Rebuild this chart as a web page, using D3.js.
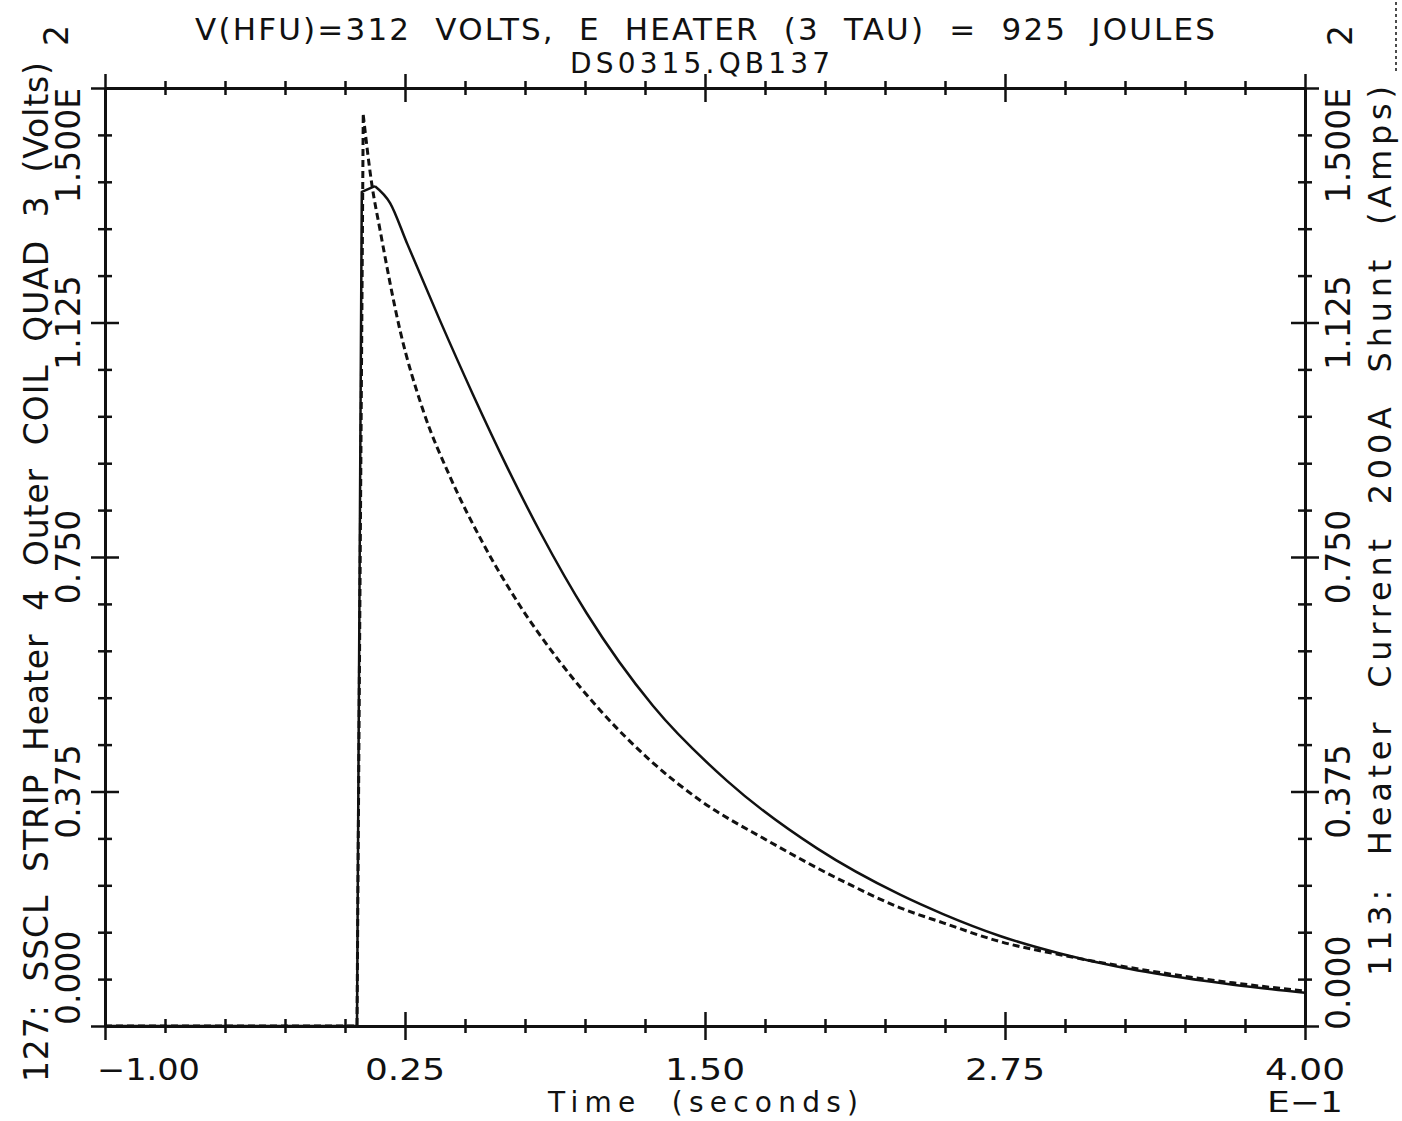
<!DOCTYPE html>
<html>
<head>
<meta charset="utf-8">
<script src="https://cdn.jsdelivr.net/npm/d3@7"></script>
<style>
  body { margin: 0; background: #fff; }
  text { font-family: "DejaVu Sans", sans-serif; fill: #111; white-space: pre; }
  .axis .domain, .axis line { stroke: #111; stroke-width: 2.5; }
</style>
</head>
<body>
<svg id="chart" width="1402" height="1121"></svg>
<script>
// Heater voltage trace (solid, left axis) - time in E-1 s, volts in E2
const voltTime  = [-1.00, 0.050, 0.070, 0.125, 0.188, 0.257, 0.396, 0.533, 0.674, 0.813, 1.007, 1.283, 1.592, 1.967, 2.313, 2.492, 2.729, 2.979, 3.217, 3.492, 3.700, 4.000];
const voltValue = [0.000, 0.000, 1.334, 1.343, 1.316, 1.253, 1.128, 1.010, 0.895, 0.790, 0.660, 0.512, 0.392, 0.284, 0.210, 0.179, 0.144, 0.116, 0.095, 0.077, 0.066, 0.053];
const voltPeakIndex = 3;

// Heater current trace (dashed, right axis) - amps in E2
const ampTime  = [-1.00, 0.050, 0.076, 0.111, 0.146, 0.229, 0.325, 0.438, 0.575, 0.729, 0.896, 1.063, 1.271, 1.479, 1.758, 2.104, 2.313, 2.492, 2.729, 2.979, 3.217, 3.492, 3.700, 4.000];
const ampValue = [0.000, 0.000, 1.457, 1.348, 1.273, 1.113, 0.985, 0.878, 0.772, 0.672, 0.582, 0.505, 0.425, 0.361, 0.297, 0.226, 0.189, 0.165, 0.135, 0.114, 0.097, 0.080, 0.069, 0.056];
const ampPeakIndex = 2;

// tick labels
const xMajor = [-1.00, 0.25, 1.50, 2.75, 4.00];
const xLabels = ["\u22121.00", "0.25", "1.50", "2.75", "4.00"];
const yMajor = [0, 0.375, 0.75, 1.125, 1.5];
const yLabels = ["0.000", "0.375", "0.750", "1.125", "1.500E"];

const svg = d3.select("#chart");

const x = d3.scaleLinear().domain([-1, 4]).range([105, 1305]);
const yL = d3.scaleLinear().domain([0, 1.5]).range([1026, 88]);
const yR = d3.scaleLinear().domain([0, 1.5]).range([1026, 88]);

const xMinor = d3.range(-1, 4.001, 0.25).filter(v => !xMajor.some(m => Math.abs(m - v) < 1e-6));
const yMinor = d3.range(0, 1.5001, 0.075).filter(v => !yMajor.some(m => Math.abs(m - v) < 1e-6));

// crossing ticks: draw the same axis to both sides of the line
function crossAxis(axisA, axisB, scale, transform, major, minor) {
    [axisA, axisB].forEach(ax => {
        svg.append("g").attr("class", "axis").attr("transform", transform)
            .call(ax(scale).tickValues(major).tickSize(14).tickSizeOuter(0).tickFormat(""));
        svg.append("g").attr("class", "axis").attr("transform", transform)
            .call(ax(scale).tickValues(minor).tickSize(7).tickSizeOuter(0).tickFormat(""));
    });
}

crossAxis(d3.axisBottom, d3.axisTop, x, `translate(0,${yL(0)})`, xMajor, xMinor);
crossAxis(d3.axisBottom, d3.axisTop, x, `translate(0,${yL(1.5)})`, xMajor, xMinor);
crossAxis(d3.axisLeft, d3.axisRight, yL, `translate(${x(-1)},0)`, yMajor, yMinor);
crossAxis(d3.axisLeft, d3.axisRight, yR, `translate(${x(4)},0)`, yMajor, yMinor);

// straight rise to the peak, smooth decay after it
function tracePath(times, values, yScale, split) {
    const pts = times.map((t, i) => [x(t), yScale(values[i])]);
    const rise = d3.line().curve(d3.curveLinear)(pts.slice(0, split + 1));
    const decay = d3.line().curve(d3.curveMonotoneX)(pts.slice(split));
    return rise + decay;
}

svg.append("path")
    .attr("d", tracePath(voltTime, voltValue, yL, voltPeakIndex))
    .attr("fill", "none").attr("stroke", "#111").attr("stroke-width", 2.5)
    .attr("stroke-linejoin", "round");
svg.append("path")
    .attr("d", tracePath(ampTime, ampValue, yR, ampPeakIndex))
    .attr("fill", "none").attr("stroke", "#111").attr("stroke-width", 3)
    .attr("stroke-dasharray", "7,4");

// titles
svg.append("text").attr("x", 195).attr("y", 40)
    .attr("font-size", 31).attr("textLength", 1020).attr("lengthAdjust", "spacing")
    .text("V(HFU)=312  VOLTS,  E  HEATER  (3  TAU)  =  925  JOULES");
svg.append("text").attr("x", 570).attr("y", 73)
    .attr("font-size", 28).attr("textLength", 260).attr("lengthAdjust", "spacing")
    .text("DS0315.QB137");

// bottom tick labels
svg.selectAll(".xlab").data(xMajor).enter().append("text")
    .attr("class", "xlab")
    .attr("x", (d, i) => i === 0 ? 97 : x(d))
    .attr("y", 1080)
    .attr("font-size", 30)
    .attr("text-anchor", (d, i) => i === 0 ? "start" : "middle")
    .attr("textLength", (d, i) => i === 0 ? 103 : 80)
    .attr("lengthAdjust", "spacingAndGlyphs")
    .text((d, i) => xLabels[i]);

svg.append("text").attr("x", 548).attr("y", 1112)
    .attr("font-size", 28).attr("textLength", 310).attr("lengthAdjust", "spacing")
    .text("Time  (seconds)");
svg.append("text").attr("x", 1305).attr("y", 1112)
    .attr("font-size", 28).attr("text-anchor", "middle")
    .attr("textLength", 76).attr("lengthAdjust", "spacingAndGlyphs")
    .text("E\u22121");

// rotated y tick labels
function yTickLabels(scale, bx, zeroStart) {
    yMajor.forEach((v, i) => {
        let y = scale(v), anchor = "middle";
        if (i === 0) { y = zeroStart; anchor = "start"; }
        if (i === yMajor.length - 1) { anchor = "end"; }
        svg.append("text")
            .attr("transform", `translate(${bx},${y}) rotate(-90)`)
            .attr("font-size", 33).attr("text-anchor", anchor)
            .text(yLabels[i]);
    });
}
yTickLabels(yL, 80, 1025);
yTickLabels(yR, 1350, 1030);

// exponent marks
svg.append("text").attr("transform", "translate(68,46) rotate(-90)")
    .attr("font-size", 33).text("2");
svg.append("text").attr("transform", "translate(1352,46) rotate(-90)")
    .attr("font-size", 33).text("2");
svg.append("line").attr("x1", 1396).attr("x2", 1396).attr("y1", 2).attr("y2", 74)
    .attr("stroke", "#111").attr("stroke-width", 1.5).attr("stroke-dasharray", "3,3");

// axis titles
svg.append("text").attr("transform", "translate(48,1082) rotate(-90)")
    .attr("font-size", 33).attr("textLength", 1020).attr("lengthAdjust", "spacing")
    .text("127:  SSCL  STRIP  Heater  4  Outer  COIL  QUAD  3  (Volts)");
svg.append("text").attr("transform", "translate(1391,976) rotate(-90)")
    .attr("font-size", 32).attr("textLength", 890).attr("lengthAdjust", "spacing")
    .text("113:  Heater  Current  200A  Shunt  (Amps)");
</script>
</body>
</html>
